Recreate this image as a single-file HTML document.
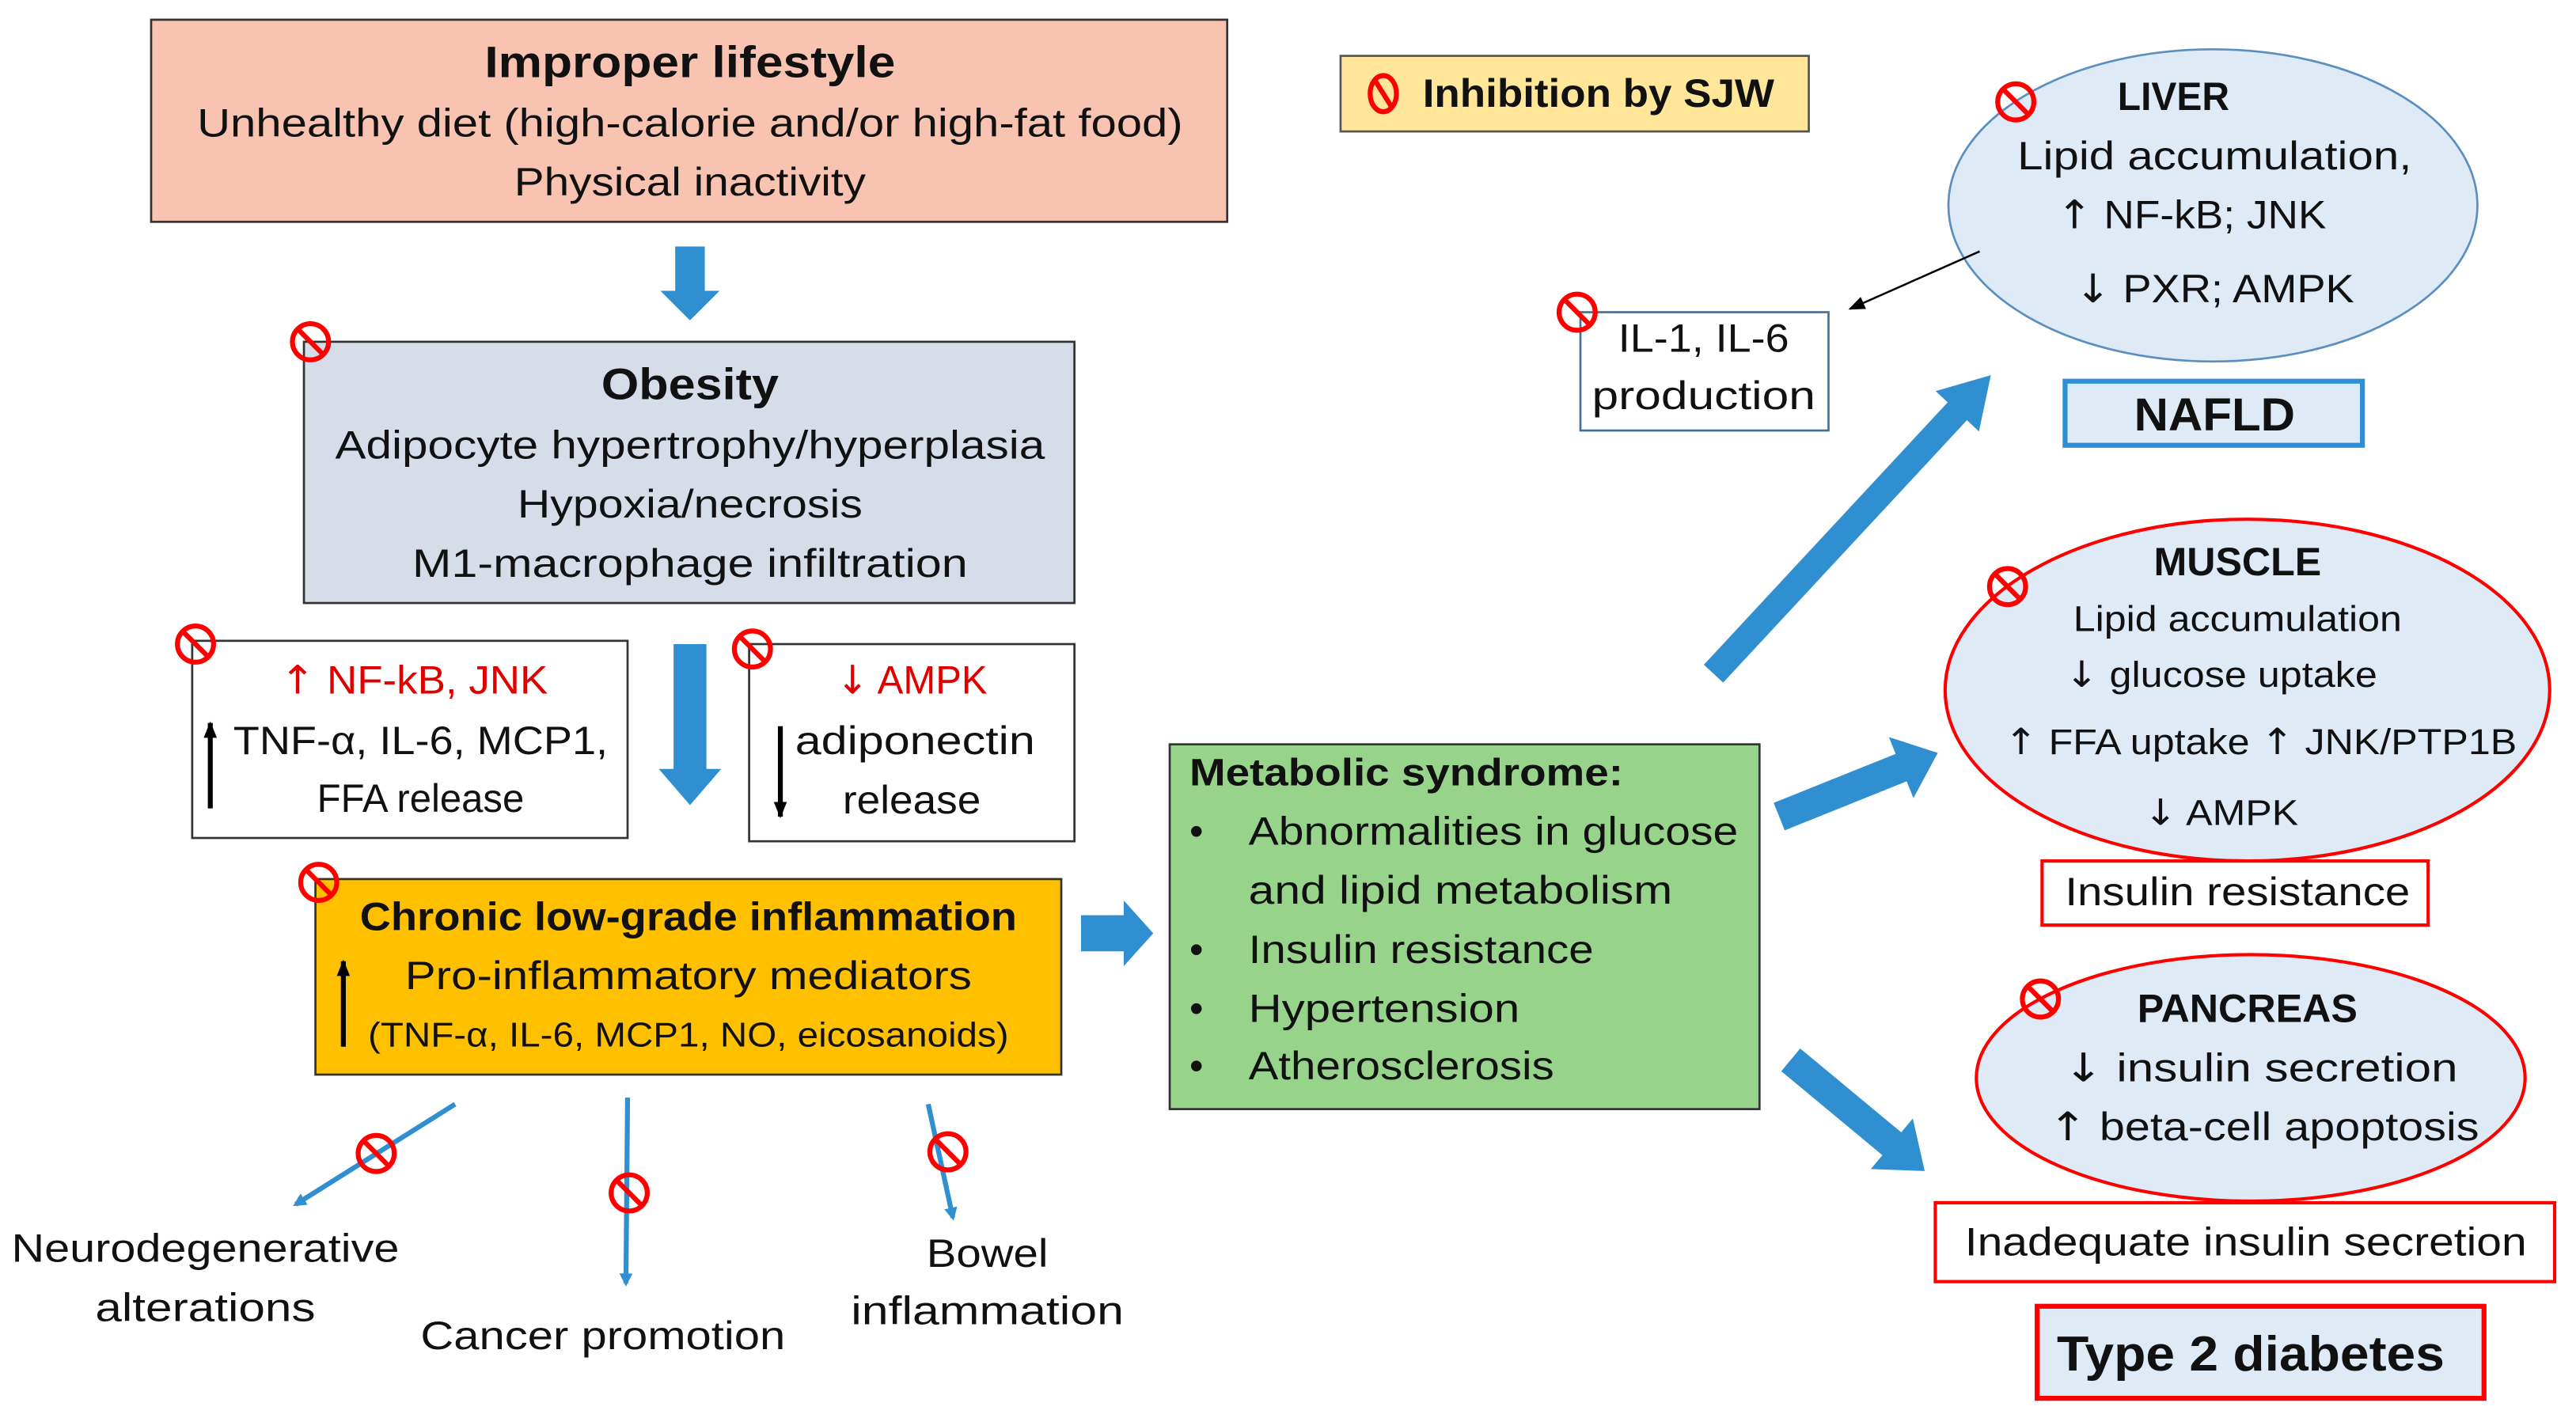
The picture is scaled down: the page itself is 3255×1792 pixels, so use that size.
<!DOCTYPE html>
<html><head><meta charset="utf-8"><style>
html,body{margin:0;padding:0;background:#fff;}
svg{display:block;}
text{font-family:"Liberation Sans",sans-serif;fill:#111;}
.b{font-weight:bold;}
.r{fill:#e00000;}
.a{font-family:"DejaVu Sans",sans-serif;}
</style></head><body>
<svg width="3255" height="1792" viewBox="0 0 1568 863" preserveAspectRatio="none" xmlns="http://www.w3.org/2000/svg">
<defs>
<g id="inh"><circle r="11" fill="none" stroke="#ff0000" stroke-width="3"/><line x1="-8" y1="-8" x2="8" y2="8" stroke="#ff0000" stroke-width="3"/></g>
<marker id="ah" markerWidth="8" markerHeight="8" refX="6" refY="4" orient="auto" markerUnits="userSpaceOnUse"><path d="M0,0 L8,4 L0,8 Z" fill="#2f8fd0"/></marker>
<marker id="ak" markerWidth="10" markerHeight="8" refX="9" refY="4" orient="auto" markerUnits="userSpaceOnUse"><path d="M0,0 L10,4 L0,8 Z" fill="#000"/></marker>
</defs>
<rect width="1568" height="863" fill="#fff"/>

<rect x="92" y="12" width="655" height="123" fill="#f9c3b1" stroke="#333" stroke-width="1.3"/>
<text x="420" y="47" font-size="27" text-anchor="middle" class="b" textLength="250" lengthAdjust="spacingAndGlyphs">Improper lifestyle</text>
<text x="420" y="83" font-size="24" text-anchor="middle" textLength="600" lengthAdjust="spacingAndGlyphs">Unhealthy diet (high-calorie and/or high-fat food)</text>
<text x="420" y="119" font-size="24" text-anchor="middle" textLength="214" lengthAdjust="spacingAndGlyphs">Physical inactivity</text>

<polygon transform="translate(420,150) rotate(90)" points="0,-9 27,-9 27,-18 45,0 27,18 27,9 0,9" fill="#2f8fd0"/>

<rect x="185" y="208" width="469" height="159" fill="#d6dde8" stroke="#333" stroke-width="1.3"/>
<use href="#inh" x="189" y="208"/>
<text x="420" y="243" font-size="27" text-anchor="middle" class="b" textLength="108" lengthAdjust="spacingAndGlyphs">Obesity</text>
<text x="420" y="279" font-size="24" text-anchor="middle" textLength="432" lengthAdjust="spacingAndGlyphs">Adipocyte hypertrophy/hyperplasia</text>
<text x="420" y="315" font-size="24" text-anchor="middle" textLength="210" lengthAdjust="spacingAndGlyphs">Hypoxia/necrosis</text>
<text x="420" y="351" font-size="24" text-anchor="middle" textLength="338" lengthAdjust="spacingAndGlyphs">M1-macrophage infiltration</text>

<rect x="117" y="390" width="265" height="120" fill="#fff" stroke="#333" stroke-width="1.3"/>
<use href="#inh" x="119" y="392"/>
<text x="252" y="422" font-size="24" text-anchor="middle" class="r" textLength="163" lengthAdjust="spacingAndGlyphs"><tspan class="a">↑</tspan> NF-kB, JNK</text>
<text x="256" y="459" font-size="24" text-anchor="middle" textLength="228" lengthAdjust="spacingAndGlyphs">TNF-α, IL-6, MCP1,</text>
<text x="256" y="494" font-size="24" text-anchor="middle" textLength="126" lengthAdjust="spacingAndGlyphs">FFA release</text>
<line x1="128" y1="492" x2="128" y2="440" stroke="#000" stroke-width="3" marker-end="url(#ak)"/>

<polygon transform="translate(420,392) rotate(90)" points="0,-10 76,-10 76,-19 98,0 76,19 76,10 0,10" fill="#2f8fd0"/>

<rect x="456" y="392" width="198" height="120" fill="#fff" stroke="#333" stroke-width="1.3"/>
<use href="#inh" x="458" y="395"/>
<text x="555" y="422" font-size="24" text-anchor="middle" class="r" textLength="92" lengthAdjust="spacingAndGlyphs"><tspan class="a">↓</tspan> AMPK</text>
<text x="557" y="459" font-size="24" text-anchor="middle" textLength="146" lengthAdjust="spacingAndGlyphs">adiponectin</text>
<text x="555" y="495" font-size="24" text-anchor="middle" textLength="84" lengthAdjust="spacingAndGlyphs">release</text>
<line x1="475" y1="442" x2="475" y2="497" stroke="#000" stroke-width="3" marker-end="url(#ak)"/>

<rect x="192" y="535" width="454" height="119" fill="#ffc000" stroke="#333" stroke-width="1.3"/>
<use href="#inh" x="194" y="537"/>
<text x="419" y="566" font-size="24" text-anchor="middle" class="b" textLength="400" lengthAdjust="spacingAndGlyphs">Chronic low-grade inflammation</text>
<text x="419" y="602" font-size="24" text-anchor="middle" textLength="345" lengthAdjust="spacingAndGlyphs">Pro-inflammatory mediators</text>
<text x="419" y="637" font-size="21" text-anchor="middle" textLength="390" lengthAdjust="spacingAndGlyphs">(TNF-α, IL-6, MCP1, NO, eicosanoids)</text>
<line x1="209" y1="637" x2="209" y2="585" stroke="#000" stroke-width="3" marker-end="url(#ak)"/>

<polygon transform="translate(658,568)" points="0,-11 26,-11 26,-20 44,0 26,20 26,11 0,11" fill="#2f8fd0"/>

<rect x="712" y="453" width="359" height="222" fill="#97d38a" stroke="#333" stroke-width="1.3"/>
<text x="724" y="478" font-size="23" class="b" textLength="264" lengthAdjust="spacingAndGlyphs">Metabolic syndrome:</text>
<g font-size="24">
<text x="724" y="514">•</text><text x="760" y="514" textLength="298" lengthAdjust="spacingAndGlyphs">Abnormalities in glucose</text>
<text x="760" y="550" textLength="258" lengthAdjust="spacingAndGlyphs">and lipid metabolism</text>
<text x="724" y="586">•</text><text x="760" y="586" textLength="210" lengthAdjust="spacingAndGlyphs">Insulin resistance</text>
<text x="724" y="622">•</text><text x="760" y="622" textLength="165" lengthAdjust="spacingAndGlyphs">Hypertension</text>
<text x="724" y="657">•</text><text x="760" y="657" textLength="186" lengthAdjust="spacingAndGlyphs">Atherosclerosis</text>
</g>

<line x1="277" y1="672" x2="180" y2="733" stroke="#2f8fd0" stroke-width="3" marker-end="url(#ah)"/>
<use href="#inh" x="229" y="702"/>
<line x1="382" y1="668" x2="381" y2="781" stroke="#2f8fd0" stroke-width="3" marker-end="url(#ah)"/>
<use href="#inh" x="383" y="726"/>
<line x1="565" y1="672" x2="580" y2="741" stroke="#2f8fd0" stroke-width="3" marker-end="url(#ah)"/>
<use href="#inh" x="577" y="701"/>
<g font-size="24" text-anchor="middle">
<text x="125" y="768" textLength="236" lengthAdjust="spacingAndGlyphs">Neurodegenerative</text>
<text x="125" y="804" textLength="134" lengthAdjust="spacingAndGlyphs">alterations</text>
<text x="367" y="821" textLength="222" lengthAdjust="spacingAndGlyphs">Cancer promotion</text>
<text x="601" y="771" textLength="74" lengthAdjust="spacingAndGlyphs">Bowel</text>
<text x="601" y="806" textLength="166" lengthAdjust="spacingAndGlyphs">inflammation</text>
</g>

<rect x="816" y="34" width="285" height="46" fill="#ffe699" stroke="#555" stroke-width="1.3"/>
<ellipse cx="842" cy="57" rx="8" ry="11" fill="none" stroke="#ff0000" stroke-width="3"/>
<line x1="837" y1="49" x2="847" y2="65" stroke="#ff0000" stroke-width="3"/>
<text x="866" y="65" font-size="24" class="b" textLength="214" lengthAdjust="spacingAndGlyphs">Inhibition by SJW</text>

<ellipse cx="1347" cy="125" rx="161" ry="95" fill="#deebf7" stroke="#5b8fc0" stroke-width="1.3"/>
<use href="#inh" x="1227" y="62"/>
<text x="1323" y="67" font-size="24" text-anchor="middle" class="b" textLength="68" lengthAdjust="spacingAndGlyphs">LIVER</text>
<text x="1348" y="103" font-size="24" text-anchor="middle" textLength="240" lengthAdjust="spacingAndGlyphs">Lipid accumulation,</text>
<text x="1334" y="139" font-size="24" text-anchor="middle" textLength="164" lengthAdjust="spacingAndGlyphs"><tspan class="a">↑</tspan> NF-kB; JNK</text>
<text x="1348" y="184" font-size="24" text-anchor="middle" textLength="170" lengthAdjust="spacingAndGlyphs"><tspan class="a">↓</tspan> PXR; AMPK</text>
<line x1="1205" y1="153" x2="1126" y2="188" stroke="#000" stroke-width="1.2" marker-end="url(#ak)"/>

<rect x="962" y="190" width="151" height="72" fill="#fff" stroke="#41719c" stroke-width="1.3"/>
<use href="#inh" x="960" y="190"/>
<text x="1037" y="214" font-size="24" text-anchor="middle" textLength="104" lengthAdjust="spacingAndGlyphs">IL-1, IL-6</text>
<text x="1037" y="249" font-size="24" text-anchor="middle" textLength="136" lengthAdjust="spacingAndGlyphs">production</text>

<rect x="1257" y="232" width="181" height="39" fill="#deebf7" stroke="#2e8fd6" stroke-width="3"/>
<text x="1348" y="262" font-size="28" text-anchor="middle" class="b" textLength="98" lengthAdjust="spacingAndGlyphs">NAFLD</text>

<polygon transform="translate(1043,410) rotate(-47.1)" points="0,-8 218,-8 218,-18 248,0 218,18 218,8 0,8" fill="#2f8fd0"/>

<ellipse cx="1368" cy="420" rx="184" ry="104" fill="#deebf7" stroke="#ff0000" stroke-width="2"/>
<use href="#inh" x="1222" y="357"/>
<text x="1362" y="350" font-size="24" text-anchor="middle" class="b" textLength="102" lengthAdjust="spacingAndGlyphs">MUSCLE</text>
<text x="1362" y="384" font-size="22" text-anchor="middle" textLength="200" lengthAdjust="spacingAndGlyphs">Lipid accumulation</text>
<text x="1352" y="418" font-size="22" text-anchor="middle" textLength="190" lengthAdjust="spacingAndGlyphs"><tspan class="a">↓</tspan> glucose uptake</text>
<text x="1376" y="459" font-size="22" text-anchor="middle" textLength="312" lengthAdjust="spacingAndGlyphs"><tspan class="a">↑</tspan> FFA uptake   <tspan class="a">↑</tspan> JNK/PTP1B</text>
<text x="1352" y="502" font-size="22" text-anchor="middle" textLength="94" lengthAdjust="spacingAndGlyphs"><tspan class="a">↓</tspan> AMPK</text>

<rect x="1243" y="524" width="235" height="39" fill="#fff" stroke="#ff0000" stroke-width="2"/>
<text x="1362" y="551" font-size="24" text-anchor="middle" textLength="210" lengthAdjust="spacingAndGlyphs">Insulin resistance</text>

<polygon transform="translate(1083,497) rotate(-21.9)" points="0,-9 80,-9 80,-20 104,0 80,20 80,9 0,9" fill="#2f8fd0"/>

<ellipse cx="1370" cy="656" rx="167" ry="75" fill="#deebf7" stroke="#ff0000" stroke-width="2"/>
<use href="#inh" x="1242" y="608"/>
<text x="1368" y="622" font-size="24" text-anchor="middle" class="b" textLength="134" lengthAdjust="spacingAndGlyphs">PANCREAS</text>
<text x="1376" y="658" font-size="24" text-anchor="middle" textLength="240" lengthAdjust="spacingAndGlyphs"><tspan class="a">↓</tspan> insulin secretion</text>
<text x="1378" y="694" font-size="24" text-anchor="middle" textLength="262" lengthAdjust="spacingAndGlyphs"><tspan class="a">↑</tspan> beta-cell apoptosis</text>

<rect x="1178" y="732" width="377" height="48" fill="#fff" stroke="#ff0000" stroke-width="2"/>
<text x="1367" y="764" font-size="24" text-anchor="middle" textLength="342" lengthAdjust="spacingAndGlyphs">Inadequate insulin secretion</text>

<polygon transform="translate(1090,645) rotate(39.7)" points="0,-9 80,-9 80,-20 106,0 80,20 80,9 0,9" fill="#2f8fd0"/>

<rect x="1240" y="795" width="272" height="56" fill="#deebf7" stroke="#ff0000" stroke-width="3"/>
<text x="1370" y="834" font-size="30" text-anchor="middle" class="b" textLength="236" lengthAdjust="spacingAndGlyphs">Type 2 diabetes</text>
</svg>
</body></html>
